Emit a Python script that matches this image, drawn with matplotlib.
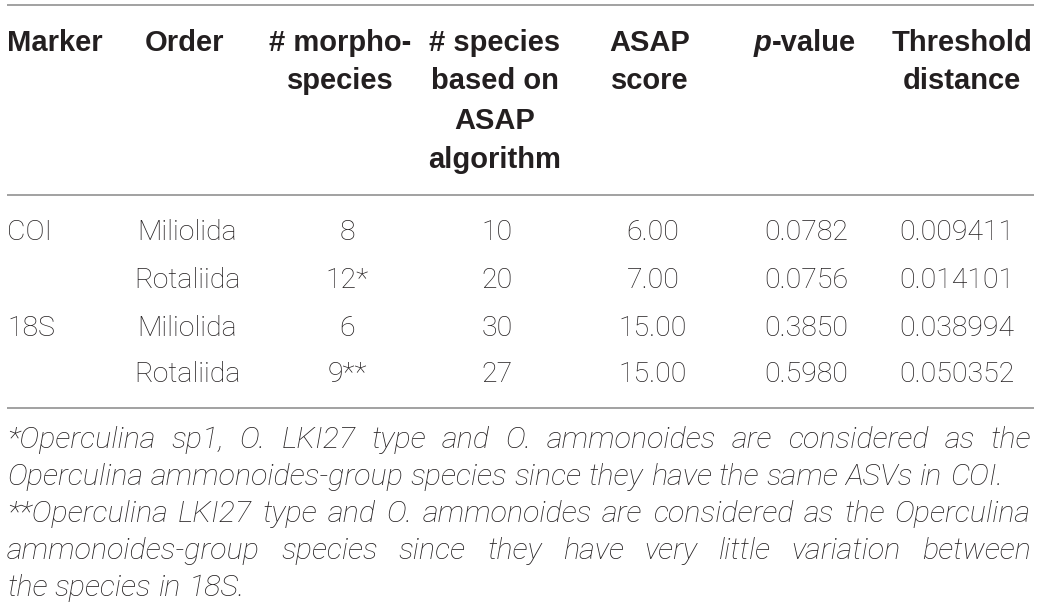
import matplotlib
matplotlib.use("Agg")
import matplotlib.pyplot as plt
from matplotlib import font_manager

# table contents
markers = ["COI", "", "18S", ""]
orders = ["Miliolida", "Rotaliida", "Miliolida", "Rotaliida"]
morpho_species = ["8", "12*", "6", "9**"]
asap_species = [10, 20, 30, 27]
asap_score = [6.00, 7.00, 15.00, 15.00]
p_values = [0.0782, 0.0756, 0.3850, 0.5980]
threshold = [0.009411, 0.014101, 0.038994, 0.050352]

headers = [
    ["Marker"],
    ["Order"],
    ["# morpho-", "species"],
    ["# species", "based on", "ASAP", "algorithm"],
    ["ASAP", "score"],
    ["p-value"],
    ["Threshold", "distance"],
]

footnotes = [
    ("*Operculina sp1, O. LKI27 type and O. ammonoides are considered as the", True),
    ("Operculina ammonoides-group species since they have the same ASVs in COI.", False),
    ("**Operculina LKI27 type and O. ammonoides are considered as the Operculina", True),
    ("ammonoides-group species since they have very little variation between", True),
    ("the species in 18S.", False),
]

W, H = 1040, 606
TXT = "#231f20"
RULE = "#9a9a9a"

avail = {f.name for f in font_manager.fontManager.ttflist}


def pick(*names):
    for n in names:
        if n in avail:
            return n
    return "DejaVu Sans"


head_font = pick("Liberation Sans", "Roboto", "DejaVu Sans")
body_font = pick("Roboto", "Liberation Sans", "DejaVu Sans")
note_font = pick("Roboto", "Liberation Sans", "DejaVu Sans")

fig = plt.figure(figsize=(W / 100, H / 100), dpi=100)
ax = fig.add_axes([0, 0, 1, 1])
ax.set_xlim(0, W)
ax.set_ylim(H, 0)
ax.axis("off")
renderer = fig.canvas.get_renderer()

# rules
for y in [5, 195, 408]:
    ax.plot([7, 1034], [y, y], color=RULE, lw=1.3, solid_capstyle="butt")

# header
col_x = [7, 185, 340, 495, 650, 805, 962]
head_y = [43, 81, 121, 160]
hstyle = dict(family=head_font, weight="bold", fontsize=21, color=TXT, va="center")
for i, lines in enumerate(headers):
    for j, line in enumerate(lines):
        if line == "p-value":
            t1 = ax.text(0, 0, "p", style="italic", **hstyle)
            t2 = ax.text(0, 0, "-value", **hstyle)
            w1 = t1.get_window_extent(renderer).width
            w2 = t2.get_window_extent(renderer).width
            x0 = col_x[i] - (w1 + w2) / 2
            t1.set_position((x0, head_y[j]))
            t2.set_position((x0 + w1, head_y[j]))
        else:
            ha = "left" if i == 0 else "center"
            ax.text(col_x[i], head_y[j], line, ha=ha, **hstyle)

# body
row_y = [233, 280, 328, 375]
data_x = [7, 187, 347, 497, 653, 806, 957]
bstyle = dict(family=body_font, weight="light", fontsize=20.5, color=TXT, va="center")
for r in range(len(orders)):
    cells = [
        markers[r],
        orders[r],
        morpho_species[r],
        "%d" % asap_species[r],
        "%.2f" % asap_score[r],
        "%.4f" % p_values[r],
        "%.6f" % threshold[r],
    ]
    for c, s in enumerate(cells):
        ha = "left" if c == 0 else "center"
        ax.text(data_x[c], row_y[r], s, ha=ha, **bstyle)

# footnotes, justified
note_y = [440, 477, 514, 551, 588]
nstyle = dict(family=note_font, style="italic", weight="light", fontsize=20, color=TXT, va="center")
left, right = 7, 1031


def width(s):
    t = ax.text(0, 0, s, **nstyle)
    w = t.get_window_extent(renderer).width
    t.remove()
    return w


# size the note font so the unjustified second line ends where it does in the source
nstyle["fontsize"] *= 995 / width(footnotes[1][0])

space = width("a a") - width("aa")
for (line, justify), y in zip(footnotes, note_y):
    words = line.split(" ")
    widths = [width(w) for w in words]
    if justify and len(words) > 1:
        gap = (right - left - sum(widths)) / (len(words) - 1)
    else:
        gap = space
    x = left
    for w, wd in zip(words, widths):
        ax.text(x, y, w, ha="left", **nstyle)
        x += wd + gap

fig.savefig("out.png", dpi=100)
